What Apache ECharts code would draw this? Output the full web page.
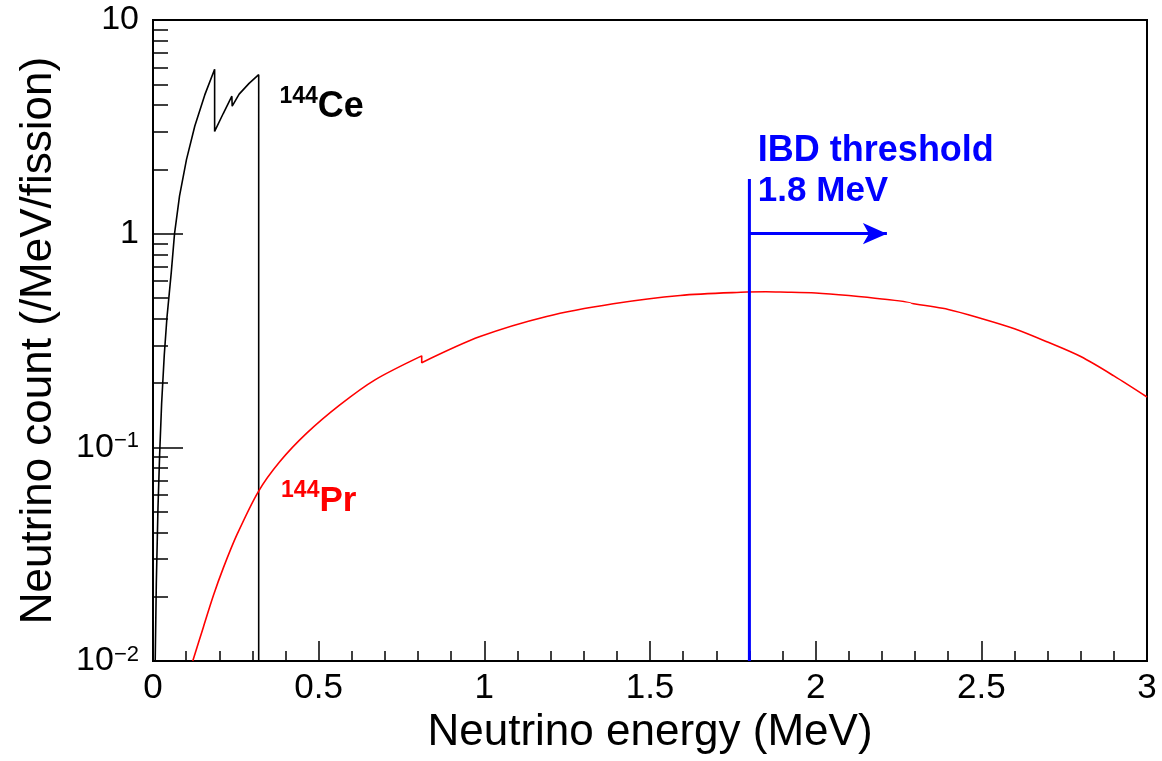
<!DOCTYPE html>
<html>
<head>
<meta charset="utf-8">
<script src="https://cdn.jsdelivr.net/npm/echarts@6/dist/echarts.min.js"></script>
<style>
  html, body { margin: 0; padding: 0; background: #fff; }
  #chart { width: 1162px; height: 761px; }
</style>
</head>
<body>
<div id="chart"></div>
<script>
// 144Ce antineutrino spectrum (energy in MeV, count per MeV per fission)
const ceEnergy = [0.0066, 0.010, 0.015, 0.020, 0.026, 0.034, 0.042, 0.055, 0.065, 0.080, 0.101, 0.126, 0.156, 0.186, 0.186, 0.212, 0.238, 0.239, 0.260, 0.290, 0.319, 0.319];
const ceCount  = [0.010, 0.023, 0.052, 0.092, 0.160, 0.270, 0.403, 0.655, 1.00, 1.50, 2.22, 3.18, 4.45, 5.88, 3.01, 3.65, 4.40, 3.95, 4.50, 5.05, 5.55, 0.010];

// 144Pr antineutrino spectrum
const prEnergy = [0.120, 0.152, 0.182, 0.212, 0.253, 0.318, 0.383, 0.464, 0.564, 0.670, 0.811, 0.811, 0.987, 1.188, 1.389, 1.591, 1.792, 1.850, 1.893, 2.000, 2.100, 2.200, 2.290, 2.290, 2.400, 2.500, 2.600, 2.700, 2.800, 2.900, 3.000];
const prCount  = [0.0100, 0.0144, 0.0202, 0.0272, 0.0389, 0.0621, 0.0858, 0.1165, 0.158, 0.207, 0.268, 0.249, 0.330, 0.410, 0.470, 0.514, 0.533, 0.535, 0.533, 0.528, 0.514, 0.495, 0.471, 0.468, 0.442, 0.401, 0.359, 0.311, 0.266, 0.216, 0.172];

// Inverse beta decay threshold marker
const ibdThreshold = 1.8;        // MeV
const ibdLineTop = 1.8;          // top of the vertical marker
const ibdArrowLevel = 1.0;       // height of the arrow
const ibdArrowEnd = 2.215;       // arrow tip energy

// Axis ticks
const xMin = 0, xMax = 3, xMajor = 0.5;
const yMin = 0.01, yMax = 10;
const yMinorTicks = [0.02, 0.03, 0.04, 0.05, 0.06, 0.07, 0.08, 0.09,
                     0.2, 0.3, 0.4, 0.5, 0.6, 0.7, 0.8, 0.9,
                     2, 3, 4, 5, 6, 7, 8, 9];

const FONT = '"Liberation Sans", Arial, Helvetica, sans-serif';

const zip = (xs, ys) => xs.map((x, i) => [x, ys[i]]);

const chart = echarts.init(document.getElementById('chart'), null, { renderer: 'canvas' });

const yLabel = v => {
  const e = Math.round(Math.log10(v));
  if (e === 1) return '{b|10}';
  if (e === 0) return '{b|1}';
  return '{b|10}{sup|\u2212' + (-e) + '}';
};

const option = {
  backgroundColor: '#ffffff',
  animation: false,
  textStyle: { fontFamily: FONT },
  grid: {
    left: 153, right: 15, top: 20, bottom: 100,
    show: true, borderColor: '#000', borderWidth: 2, backgroundColor: 'transparent'
  },
  xAxis: {
    type: 'value', min: xMin, max: xMax, interval: xMajor,
    name: 'Neutrino energy (MeV)', nameLocation: 'middle', nameGap: 50,
    nameTextStyle: { fontSize: 44, color: '#000', fontFamily: FONT },
    axisLine: { show: true, onZero: false, lineStyle: { color: '#000', width: 2 } },
    axisTick: { show: true, inside: true, length: 20, lineStyle: { color: '#000', width: 1.5 } },
    minorTick: { show: true, splitNumber: 5, length: 10, lineStyle: { color: '#000', width: 1.5 } },
    axisLabel: { fontSize: 35, color: '#000', margin: 10, fontFamily: FONT,
                 formatter: v => String(+v.toFixed(1)) },
    splitLine: { show: false },
    minorSplitLine: { show: false }
  },
  yAxis: [
    {
      type: 'log', logBase: 10, min: yMin, max: yMax,
      name: 'Neutrino count (/MeV/fission)', nameLocation: 'middle', nameGap: 92,
      nameTextStyle: { fontSize: 44, color: '#000', fontFamily: FONT },
      axisLine: { show: true, onZero: false, lineStyle: { color: '#000', width: 2 } },
      axisTick: { show: true, inside: true, length: 30, lineStyle: { color: '#000', width: 1.5 } },
      axisLabel: {
        color: '#000', margin: 14, fontFamily: FONT,
        formatter: yLabel,
        rich: {
          b: { fontSize: 34, fontFamily: FONT, color: '#000', lineHeight: 34, verticalAlign: 'bottom' },
          sup: { fontSize: 22, fontFamily: FONT, color: '#000', lineHeight: 22, verticalAlign: 'top' }
        }
      },
      splitLine: { show: false }
    },
    {
      // secondary log axis carrying the 2..9 sub-decade ticks
      type: 'log', logBase: 10, min: yMin, max: yMax, position: 'left',
      axisLine: { show: false },
      axisTick: { show: true, inside: true, length: 15, customValues: yMinorTicks,
                  lineStyle: { color: '#000', width: 1.5 } },
      axisLabel: { show: false },
      splitLine: { show: false }
    }
  ],
  series: [
    {
      name: '144Ce', type: 'line', data: zip(ceEnergy, ceCount),
      showSymbol: false, symbol: 'none', smooth: false,
      lineStyle: { color: '#000', width: 1.6 }, z: 3
    },
    {
      name: '144Pr', type: 'line', data: zip(prEnergy, prCount),
      showSymbol: false, symbol: 'none', smooth: 0.3,
      lineStyle: { color: '#ff0000', width: 1.6 }, z: 3
    },
    {
      name: 'IBD threshold', type: 'line',
      data: [[ibdThreshold, yMin], [ibdThreshold, ibdLineTop]],
      showSymbol: false, symbol: 'none',
      lineStyle: { color: '#0000ff', width: 3 }, z: 4,
      markLine: {
        silent: true, symbol: ['none', 'arrow'], symbolSize: [16, 24],
        label: { show: false },
        lineStyle: { color: '#0000ff', width: 3, type: 'solid' },
        data: [[{ coord: [ibdThreshold, ibdArrowLevel] }, { coord: [ibdArrowEnd, ibdArrowLevel] }]]
      }
    },
    {
      name: 'annotations', type: 'scatter', symbolSize: 1, silent: true,
      itemStyle: { color: 'rgba(0,0,0,0)', opacity: 1 }, z: 5,
      label: {
        show: true, position: [0, 0], align: 'left', verticalAlign: 'bottom',
        fontFamily: FONT, opacity: 1
      },
      data: [
        { value: [0.383, 3.2], label: { formatter: '{s|144}{m|Ce}',
          rich: { s: { fontSize: 23, fontWeight: 'bold', color: '#000', verticalAlign: 'top', lineHeight: 36 },
                  m: { fontSize: 36, fontWeight: 'bold', color: '#000', verticalAlign: 'bottom', lineHeight: 40 } } } },
        { value: [0.388, 0.046], label: { formatter: '{s|144}{m|Pr}',
          rich: { s: { fontSize: 23, fontWeight: 'bold', color: '#ff0000', verticalAlign: 'top', lineHeight: 36 },
                  m: { fontSize: 35, fontWeight: 'bold', color: '#ff0000', verticalAlign: 'bottom', lineHeight: 40 } } } },
        { value: [1.827, 2.0], label: { formatter: 'IBD threshold', fontSize: 36, fontWeight: 'bold', color: '#0000ff' } },
        { value: [1.827, 1.3], label: { formatter: '1.8 MeV', fontSize: 35, fontWeight: 'bold', color: '#0000ff' } }
      ]
    }
  ]
};

chart.setOption(option);
</script>
</body>
</html>
